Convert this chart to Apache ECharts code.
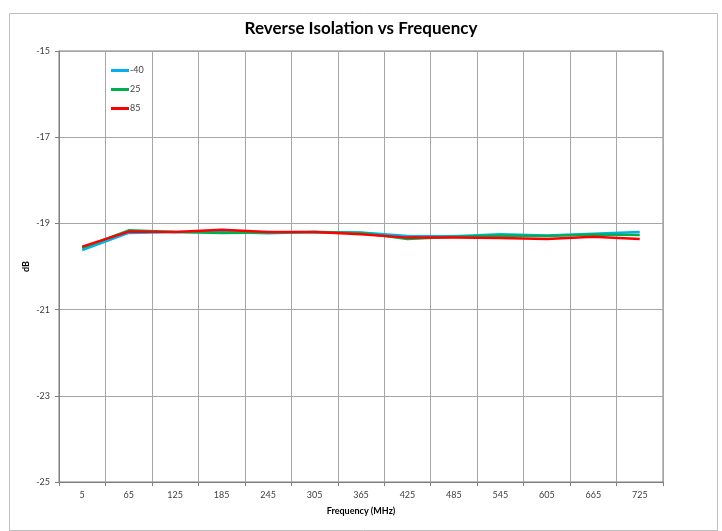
<!DOCTYPE html>
<html>
<head>
<meta charset="utf-8">
<script src="https://cdn.jsdelivr.net/npm/echarts@6/dist/echarts.min.js"></script>
<style>
html,body{margin:0;padding:0;background:#fff;}
#chart{width:722px;height:531px;}
</style>
</head>
<body>
<div id="chart"></div>
<script>
var categories = ['5','65','125','185','245','305','365','425','485','545','605','665','725'];
var seriesNames = ['-40','25','85'];
var valsM40 = [-19.62,-19.22,-19.20,-19.20,-19.23,-19.20,-19.21,-19.29,-19.30,-19.25,-19.28,-19.24,-19.20];
var vals25  = [-19.57,-19.16,-19.20,-19.22,-19.21,-19.20,-19.22,-19.36,-19.31,-19.28,-19.29,-19.26,-19.27];
var vals85  = [-19.54,-19.19,-19.20,-19.15,-19.20,-19.20,-19.25,-19.33,-19.33,-19.34,-19.36,-19.31,-19.36];
var colors = ['#00B0F0','#00B050','#FF0000'];
var yTicks = {min:-25, max:-15, interval:2};

var FONT = 'Lato, "Open Sans", sans-serif';
var chart = echarts.init(document.getElementById('chart'), null, {renderer:'canvas'});
var data = [valsM40, vals25, vals85];
chart.setOption({
  animation:false,
  backgroundColor:'#ffffff',
  textStyle:{fontFamily:FONT},
  title:{
    text:'Reverse Isolation vs Frequency',
    left:'center', top:15,
    textStyle:{fontFamily:FONT, fontSize:17, fontWeight:'bold', color:'#000'}
  },
  legend:{
    orient:'vertical', left:106, top:60,
    itemWidth:18, itemHeight:3, itemGap:8, icon:'rect',
    textStyle:{fontFamily:FONT, fontSize:9, color:'#404040', padding:[0,0,0,-4], lineHeight:11},
    data:seriesNames
  },
  graphic:[{
    type:'rect', left:7, top:11, z:-1,
    shape:{x:0,y:0,width:708,height:517},
    style:{fill:'none', stroke:'#bfbfbf', lineWidth:1}
  }],
  grid:{left:59, right:59, top:51, bottom:49, show:true, borderColor:'#7f7f7f', borderWidth:1, containLabel:false},
  xAxis:{
    type:'category', data:categories, boundaryGap:true,
    name:'Frequency (MHz)', nameLocation:'middle', nameGap:25,
    nameTextStyle:{fontFamily:FONT, fontSize:9, fontWeight:'bold', color:'#000'},
    axisLine:{lineStyle:{color:'#7f7f7f'}},
    axisTick:{show:true, length:4, alignWithLabel:false, interval:0, lineStyle:{color:'#7f7f7f'}},
    axisLabel:{fontFamily:FONT, fontSize:9, color:'#404040', margin:9, interval:0},
    splitLine:{show:true, interval:0, lineStyle:{color:'#a6a6a6', width:1}}
  },
  yAxis:{
    type:'value', min:yTicks.min, max:yTicks.max, interval:yTicks.interval,
    name:'dB', nameLocation:'middle', nameGap:28, nameRotate:90, nameMoveOverlap:false,
    nameTextStyle:{fontFamily:FONT, fontSize:9, fontWeight:'bold', color:'#000'},
    axisLine:{show:true, lineStyle:{color:'#7f7f7f'}},
    axisTick:{show:true, length:4, lineStyle:{color:'#7f7f7f'}},
    axisLabel:{fontFamily:FONT, fontSize:9, color:'#404040', margin:9},
    splitLine:{show:true, lineStyle:{color:'#a6a6a6', width:1}}
  },
  series: seriesNames.map(function(n,i){
    return {
      name:n, type:'line', data:data[i], symbol:'none', smooth:false,
      lineStyle:{color:colors[i], width:2.5},
      itemStyle:{color:colors[i]},
      z:2+i
    };
  })
});
</script>
</body>
</html>
